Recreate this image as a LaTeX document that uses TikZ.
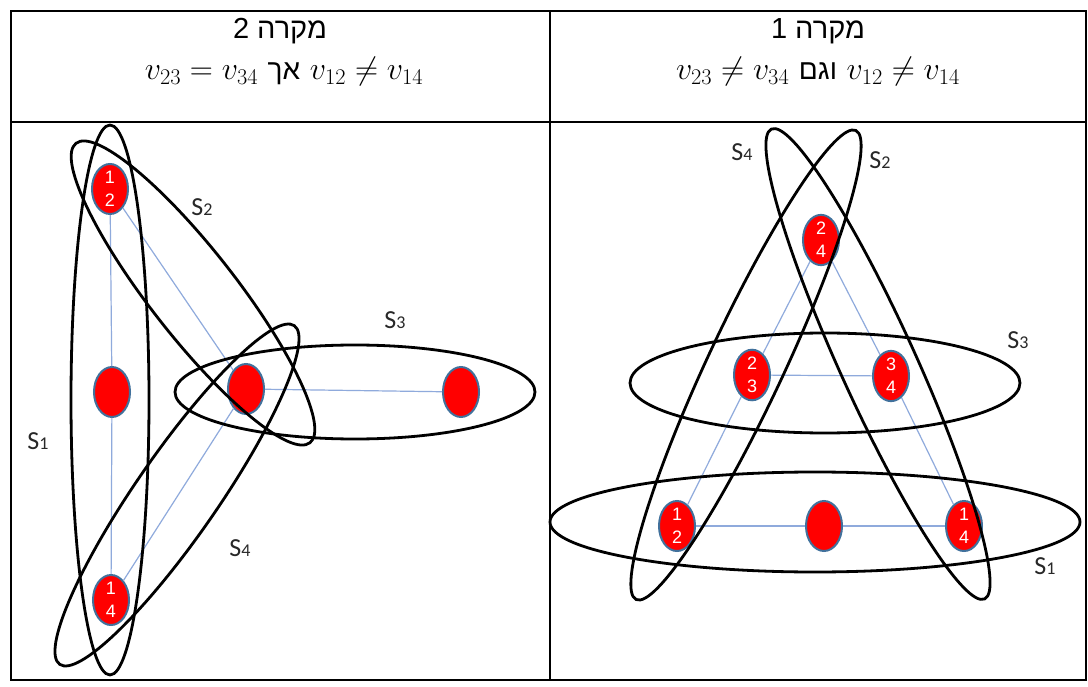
\RequirePackage{fix-cm}
\documentclass[tikz,border=0pt]{standalone}
\usepackage{fontspec}
\usepackage{tikz}
\usetikzlibrary{shapes.geometric}
\TeXXeTstate=1
\newfontfamily\hebfont[Script=Hebrew]{Liberation Sans}
\newfontfamily\lblfont{Carlito}
\newfontfamily\vtxfont{Liberation Sans}
\definecolor{HGRed}{RGB}{255, 0, 0}
\definecolor{HGRim}{RGB}{65, 113, 156}
\definecolor{HGEdge}{RGB}{143, 170, 220}
\definecolor{HGLabel}{RGB}{40, 40, 40}
\newcommand{\slbl}[1]{S{\fontsize{18}{18}\selectfont #1}}
\tikzset{
  vtx/.style={ellipse, draw=HGRim, line width=2pt, fill=HGRed, minimum width=36pt,
    minimum height=50pt, inner sep=0pt, text=white, align=center,
    font=\vtxfont\fontsize{18}{23}\selectfont},
  link/.style={HGEdge, line width=1.2pt},
  hyper/.style={black, line width=2.8pt},
  lbl/.style={font=\lblfont\fontsize{26}{26}\selectfont, text=HGLabel},
  grid/.style={black, line width=1.3pt}
}

\begin{document}
\begin{tikzpicture}[x=1pt, y=-1pt]
  \useasboundingbox (0,0) rectangle (1088,687);
  \fill[white] (0,0) rectangle (1088,687);

  % table
  \draw[grid] (11,11) rectangle (1086,680);
  \draw[black, line width=2.4pt] (11,11) -- (1086,11);
  \draw[grid] (550,11) -- (550,680);
  \draw[grid] (11,122) -- (1086,122);

  \node (h2a) at (280,31) {\hebfont\fontsize{29}{29}\selectfont\beginR מקרה 2\endR};
  \node (h2b) at (284,72) {\fontsize{32}{32}\selectfont
    $v_{23}=v_{34}$ {\hebfont\fontsize{28}{28}\selectfont\beginR אך\endR} $v_{12}\neq v_{14}$};
  \node (h1a) at (818,31) {\hebfont\fontsize{29}{29}\selectfont\beginR מקרה 1\endR};
  \node (h1b) at (818,72) {\fontsize{32}{32}\selectfont
    $v_{23}\neq v_{34}$ {\hebfont\fontsize{28}{28}\selectfont\beginR וגם\endR} $v_{12}\neq v_{14}$};

  % case 2
  \node[vtx] (l12) at (110,189) {1\\2};
  \node[vtx] (l1) at (112,392) {};
  \node[vtx] (l14) at (111,600) {1\\4};
  \node[vtx] (l23) at (246,389) {};
  \node[vtx] (l3) at (461,392) {};
  \draw[link] (l12) -- (l1);
  \draw[link] (l1) -- (l14);
  \draw[link] (l12) -- (l23);
  \draw[link] (l14) -- (l23);
  \draw[link] (l23) -- (l3);
  \draw[hyper] (110,400) ellipse [x radius=39, y radius=275];
  \draw[hyper, rotate around={-52:(193,293)}] (193,293) ellipse [x radius=190, y radius=43];
  \draw[hyper] (355,392) ellipse [x radius=180, y radius=47];
  \draw[hyper, rotate around={55.3:(177,495)}] (177,495) ellipse [x radius=206, y radius=41];
  \node[lbl] (ls1) at (38,441) {\slbl{1}};
  \node[lbl] (ls2) at (202,207) {\slbl{2}};
  \node[lbl] (ls3) at (395,320) {\slbl{3}};
  \node[lbl] (ls4) at (240,548) {\slbl{4}};

  % case 1
  \node[vtx] (r24) at (821,240) {2\\4};
  \node[vtx] (r23) at (752,375) {2\\3};
  \node[vtx] (r34) at (891,376) {3\\4};
  \node[vtx] (r12) at (677,526) {1\\2};
  \node[vtx] (rm) at (824,526) {};
  \node[vtx] (r14) at (964,526) {1\\4};
  \draw[link] (r24) -- (r23);
  \draw[link] (r23) -- (r12);
  \draw[link] (r24) -- (r34);
  \draw[link] (r34) -- (r14);
  \draw[link] (r23) -- (r34);
  \draw[link] (r12) -- (rm);
  \draw[link] (rm) -- (r14);
  \draw[hyper] (815,522) ellipse [x radius=265, y radius=50];
  \draw[hyper] (825,383) ellipse [x radius=195, y radius=50];
  \draw[hyper, rotate around={-65.6:(878,364)}] (878,364) ellipse [x radius=258, y radius=38];
  \draw[hyper, rotate around={64.9:(746,365)}] (746,365) ellipse [x radius=259, y radius=38];
  \node[lbl] (rs4) at (742,152) {\slbl{4}};
  \node[lbl] (rs2) at (880,160) {\slbl{2}};
  \node[lbl] (rs3) at (1018,340) {\slbl{3}};
  \node[lbl] (rs1) at (1045,566) {\slbl{1}};
\end{tikzpicture}
\end{document}
